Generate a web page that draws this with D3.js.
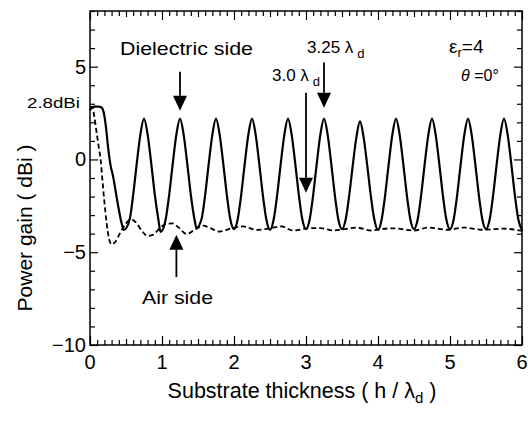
<!DOCTYPE html>
<html>
<head>
<meta charset="utf-8">
<script src="https://cdn.jsdelivr.net/npm/d3@7"></script>
<style>
  body { margin: 0; background: #fff; }
  text { font-family: "Liberation Sans", Arial, sans-serif; fill: #000; }
</style>
</head>
<body>
<div id="chart"></div>
<script>
// x tick labels and y tick labels
const xTickLabels = [0, 1, 2, 3, 4, 5, 6];
const yTickLabels = [-10, -5, 0, 5];

// dielectric side (solid) — [h/λd, gain dBi]
const dielectricSide = [
  [0, 2.65], [0.03, 2.8], [0.07, 2.85], [0.12, 2.85], [0.16, 2.8], [0.19, 2.55], [0.22, 1.8],
  [0.25, 0.7], [0.28, -0.2], [0.32, -0.9], [0.36, -1.8], [0.4, -2.7], [0.44, -3.45], [0.47, -3.8],
  [0.55, -3.25], [0.6, -1.9], [0.65, -0.2], [0.7, 1.35], [0.75, 2.2], [0.8, 1.35], [0.85, -0.2], [0.9, -1.9], [0.95, -3.25], [0.98, -3.9],
  [1.05, -3.25], [1.1, -1.9], [1.15, -0.2], [1.2, 1.35], [1.25, 2.2], [1.3, 1.35], [1.35, -0.2], [1.4, -1.9], [1.45, -3.2], [1.48, -3.7],
  [1.55, -3.2], [1.6, -1.9], [1.65, -0.2], [1.7, 1.35], [1.75, 2.2], [1.8, 1.35], [1.85, -0.2], [1.9, -1.9], [1.95, -3.25], [2.0, -3.75],
  [2.05, -3.25], [2.1, -1.9], [2.15, -0.2], [2.2, 1.35], [2.25, 2.2], [2.3, 1.35], [2.35, -0.2], [2.4, -1.9], [2.45, -3.25], [2.5, -3.8],
  [2.55, -3.25], [2.6, -1.9], [2.65, -0.2], [2.7, 1.35], [2.75, 2.2], [2.8, 1.35], [2.85, -0.2], [2.9, -1.9], [2.95, -3.25], [3.0, -3.75],
  [3.05, -3.25], [3.1, -1.9], [3.15, -0.2], [3.2, 1.35], [3.25, 2.2], [3.3, 1.35], [3.35, -0.2], [3.4, -1.9], [3.45, -3.25], [3.5, -3.75],
  [3.55, -3.25], [3.6, -1.95], [3.65, -0.3], [3.7, 1.2], [3.75, 2.05], [3.8, 1.2], [3.85, -0.3], [3.9, -1.95], [3.95, -3.25], [4.0, -3.8],
  [4.05, -3.25], [4.1, -1.9], [4.15, -0.2], [4.2, 1.35], [4.25, 2.2], [4.3, 1.35], [4.35, -0.2], [4.4, -1.9], [4.45, -3.25], [4.5, -3.75],
  [4.55, -3.25], [4.6, -1.9], [4.65, -0.2], [4.7, 1.35], [4.75, 2.2], [4.8, 1.35], [4.85, -0.2], [4.9, -1.9], [4.95, -3.25], [5.0, -3.75],
  [5.05, -3.25], [5.1, -1.9], [5.15, -0.2], [5.2, 1.35], [5.25, 2.2], [5.3, 1.35], [5.35, -0.2], [5.4, -1.9], [5.45, -3.25], [5.5, -3.75],
  [5.55, -3.25], [5.6, -1.9], [5.65, -0.2], [5.7, 1.35], [5.75, 2.2], [5.8, 1.35], [5.85, -0.2], [5.9, -1.9], [5.95, -3.25], [6.0, -3.8]
];

// air side (dashed)
const airSide = [
  [0, 2.8], [0.03, 2.85], [0.06, 2.3], [0.09, 1.5], [0.12, 0.7], [0.15, -0.1], [0.17, -1.0],
  [0.2, -2.3], [0.23, -3.4], [0.26, -4.2], [0.3, -4.58], [0.35, -4.45], [0.42, -3.95], [0.5, -3.45],
  [0.57, -3.23], [0.64, -3.4], [0.72, -3.85], [0.8, -4.12], [0.88, -4.05], [0.97, -3.7], [1.06, -3.47],
  [1.15, -3.45], [1.24, -3.7], [1.34, -4.02], [1.45, -3.8], [1.57, -3.57], [1.67, -3.7], [1.8, -3.89],
  [1.96, -3.72], [2.13, -3.61], [2.31, -3.8], [2.5, -3.71], [2.66, -3.61], [2.82, -3.83], [3.03, -3.71],
  [3.2, -3.7], [3.38, -3.83], [3.5, -3.78], [3.7, -3.67], [3.91, -3.83], [4.05, -3.75], [4.21, -3.71],
  [4.5, -3.83], [4.7, -3.67], [4.96, -3.79], [5.19, -3.67], [5.44, -3.79], [5.74, -3.73], [6.0, -3.85]
];

// arrows: x position, tail and tip values
const arrows = [
  { x: 1.25, from: 4.73, to: 2.63 },
  { x: 3.25, from: 5.22, to: 2.79 },
  { x: 3.0, from: 3.6, to: -1.8 },
  { x: 1.2, from: -6.34, to: -4.06 }
];

const W = 528, H = 423;
const margin = { top: 11, right: 6, bottom: 78, left: 90 };

const svg = d3.select("#chart").append("svg")
  .attr("width", W)
  .attr("height", H);

const x = d3.scaleLinear().domain([0, 6]).range([margin.left, W - margin.right]);
const y = d3.scaleLinear().domain([-10, 8]).range([H - margin.bottom, margin.top]);

// frame
svg.append("rect")
  .attr("x", x(0)).attr("y", y(8))
  .attr("width", x(6) - x(0)).attr("height", y(-10) - y(8))
  .attr("fill", "none").attr("stroke", "#000").attr("stroke-width", 1.5);

// ticks, all pointing inward
function tickGroup(axis, translate) {
  const g = svg.append("g").attr("transform", translate).call(axis);
  g.select(".domain").remove();
  g.selectAll("line").attr("stroke", "#000").attr("stroke-width", 1.2);
  g.selectAll("text").remove();
  return g;
}

const xMinor = d3.range(0, 6.001, 0.1).filter(v => Math.abs(v * 2 - Math.round(v * 2)) > 1e-6);
const xHalf = d3.range(0.5, 6, 1);
const yMinor = d3.range(-10, 8.001, 1).filter(v => v % 5 !== 0);

tickGroup(d3.axisBottom(x).tickValues(xMinor).tickSize(-5), `translate(0,${y(-10)})`);
tickGroup(d3.axisBottom(x).tickValues(xHalf).tickSize(-6), `translate(0,${y(-10)})`);
tickGroup(d3.axisBottom(x).tickValues(xTickLabels).tickSize(-9), `translate(0,${y(-10)})`);
tickGroup(d3.axisTop(x).tickValues(xMinor).tickSize(-5), `translate(0,${y(8)})`);
tickGroup(d3.axisTop(x).tickValues(xHalf).tickSize(-6), `translate(0,${y(8)})`);
tickGroup(d3.axisTop(x).tickValues(xTickLabels).tickSize(-9), `translate(0,${y(8)})`);
tickGroup(d3.axisLeft(y).tickValues(yMinor).tickSize(-5), `translate(${x(0)},0)`);
tickGroup(d3.axisLeft(y).tickValues(yTickLabels).tickSize(-8), `translate(${x(0)},0)`);
tickGroup(d3.axisRight(y).tickValues(yMinor).tickSize(-5), `translate(${x(6)},0)`);
tickGroup(d3.axisRight(y).tickValues(yTickLabels).tickSize(-8), `translate(${x(6)},0)`);

// tick labels
svg.append("g").selectAll("text")
  .data(xTickLabels).join("text")
  .attr("x", d => x(d))
  .attr("y", 369)
  .attr("text-anchor", "middle")
  .attr("font-size", 20)
  .text(d => d);

svg.append("g").selectAll("text")
  .data(yTickLabels).join("text")
  .attr("x", x(0) - 4)
  .attr("y", d => y(d) + 7)
  .attr("text-anchor", "end")
  .attr("font-size", 20)
  .text(d => d < 0 ? "\u2212" + Math.abs(d) : d);

// curves
const line = d3.line()
  .x(d => x(d[0]))
  .y(d => y(d[1]))
  .curve(d3.curveMonotoneX);

svg.append("path")
  .datum(airSide)
  .attr("d", line)
  .attr("fill", "none")
  .attr("stroke", "#000")
  .attr("stroke-width", 1.8)
  .attr("stroke-dasharray", "5,3");

svg.append("path")
  .datum(dielectricSide)
  .attr("d", line)
  .attr("fill", "none")
  .attr("stroke", "#000")
  .attr("stroke-width", 2.2);

// arrows
arrows.forEach(a => {
  const x0 = x(a.x), y0 = y(a.from), y1 = y(a.to);
  const dir = y1 > y0 ? 1 : -1;
  const headLen = 15, headW = 7;
  svg.append("line")
    .attr("x1", x0).attr("y1", y0)
    .attr("x2", x0).attr("y2", y1 - dir * headLen)
    .attr("stroke", "#000").attr("stroke-width", 1.8);
  svg.append("path")
    .attr("d", `M${x0},${y1} L${x0 - headW},${y1 - dir * headLen} L${x0 + headW},${y1 - dir * headLen} Z`)
    .attr("fill", "#000");
});

// annotation texts
svg.append("text")
  .attr("x", 120).attr("y", 55)
  .attr("font-size", 19)
  .attr("textLength", 133).attr("lengthAdjust", "spacingAndGlyphs")
  .text("Dielectric side");

svg.append("text")
  .attr("x", 142).attr("y", 304)
  .attr("font-size", 19)
  .attr("textLength", 71).attr("lengthAdjust", "spacingAndGlyphs")
  .text("Air side");

svg.append("text")
  .attr("x", 27).attr("y", 108)
  .attr("font-size", 14)
  .attr("textLength", 53).attr("lengthAdjust", "spacingAndGlyphs")
  .text("2.8dBi");

const t325 = svg.append("text").attr("x", 307).attr("y", 53).attr("font-size", 17);
t325.append("tspan").text("3.25 \u03bb");
t325.append("tspan").attr("dx", 4).attr("dy", 5).attr("font-size", 13).text("d");

const t30 = svg.append("text").attr("x", 272).attr("y", 81).attr("font-size", 17);
t30.append("tspan").text("3.0 \u03bb");
t30.append("tspan").attr("dx", 4).attr("dy", 5).attr("font-size", 13).text("d");

const eps = svg.append("text").attr("x", 449).attr("y", 53).attr("font-size", 19);
eps.append("tspan").text("\u03b5");
eps.append("tspan").attr("dy", 4).attr("font-size", 13).text("r");
eps.append("tspan").attr("dy", -4).text("=4");

const th = svg.append("text").attr("x", 461).attr("y", 81).attr("font-size", 16);
th.append("tspan").attr("font-style", "italic").text("\u03b8");
th.append("tspan").text(" =0\u00b0");

// axis titles
svg.append("text")
  .attr("transform", `translate(32,${228}) rotate(-90)`)
  .attr("text-anchor", "middle")
  .attr("font-size", 21)
  .text("Power gain ( dBi )");

const xt = svg.append("text")
  .attr("x", 302).attr("y", 398)
  .attr("text-anchor", "middle")
  .attr("font-size", 21.5);
xt.append("tspan").text("Substrate thickness ( h / \u03bb");
xt.append("tspan").attr("dy", 5).attr("font-size", 15).text("d");
xt.append("tspan").attr("dy", -5).text(" )");
</script>
</body>
</html>
